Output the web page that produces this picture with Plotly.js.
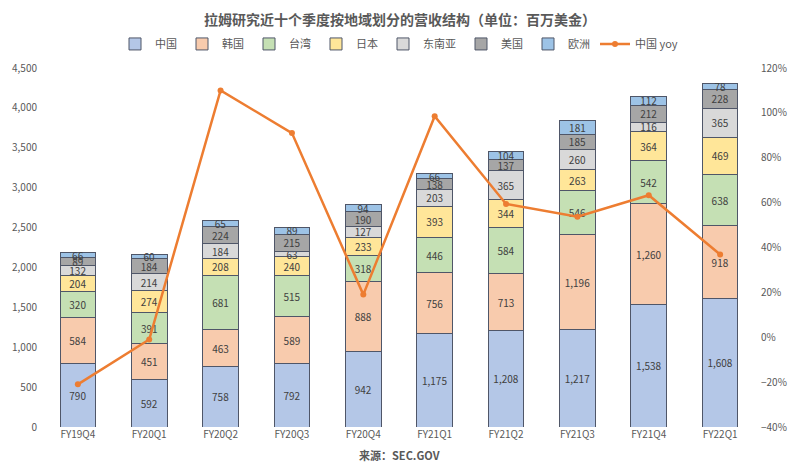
<!DOCTYPE html>
<html>
<head>
<meta charset="utf-8">
<script src="https://cdn.plot.ly/plotly-3.0.1.min.js"></script>
<style>
  html, body { margin: 0; padding: 0; background: #fff; }
  #chart { width: 800px; height: 474px; }
</style>
</head>
<body>
<div id="chart"></div>
<script>
var quarters = ['FY19Q4', 'FY20Q1', 'FY20Q2', 'FY20Q3', 'FY20Q4', 'FY21Q1', 'FY21Q2', 'FY21Q3', 'FY21Q4', 'FY22Q1'];

var china     = [790, 592, 758, 792, 942, 1175, 1208, 1217, 1538, 1608];
var korea     = [584, 451, 463, 589, 888, 756, 713, 1196, 1260, 918];
var taiwan    = [320, 391, 681, 515, 318, 446, 584, 546, 542, 638];
var japan     = [204, 274, 208, 240, 233, 393, 344, 263, 364, 469];
var seAsia    = [132, 214, 184, 63, 127, 203, 365, 260, 116, 365];
var usa       = [89, 184, 224, 215, 190, 138, 137, 185, 212, 228];
var europe    = [66, 60, 65, 89, 94, 66, 104, 181, 112, 78];
var chinaYoy  = [-0.21, -0.01, 1.10, 0.91, 0.19, 0.985, 0.594, 0.537, 0.633, 0.369];

var regions = [
    {name: '中国', y: china, color: '#B4C7E7'},
    {name: '韩国', y: korea, color: '#F8CBAD'},
    {name: '台湾', y: taiwan, color: '#C5E0B4'},
    {name: '日本', y: japan, color: '#FFE699'},
    {name: '东南亚', y: seAsia, color: '#D9D9D9'},
    {name: '美国', y: usa, color: '#A6A6A6'},
    {name: '欧洲', y: europe, color: '#9DC3E6'}
];

var labelColor = '#595959';
var font = 'Noto Sans CJK SC, Noto Sans, sans-serif';

var data = regions.map(function (r) {
    return {
        x: quarters,
        y: r.y,
        type: 'bar',
        name: r.name,
        text: r.y.map(function (v) { return v.toLocaleString('en-US'); }),
        textposition: 'inside',
        insidetextanchor: 'middle',
        textangle: 0,
        constraintext: 'none',
        textfont: {size: 10, color: '#404040', family: font},
        marker: {color: r.color, line: {color: '#4F5668', width: 1}},
        hoverinfo: 'skip'
    };
});

data.push({
    x: quarters,
    y: chinaYoy,
    type: 'scatter',
    mode: 'lines+markers',
    name: '中国 yoy',
    yaxis: 'y2',
    line: {color: '#ED7D31', width: 2.5},
    marker: {color: '#ED7D31', size: 6}
});

var layout = {
    width: 800,
    height: 474,
    barmode: 'stack',
    bargap: 0.5,
    paper_bgcolor: '#fff',
    plot_bgcolor: '#fff',
    margin: {l: 38, r: 40, t: 68, b: 47},
    font: {family: font, color: labelColor, size: 10},
    title: {
        text: '<b>拉姆研究近十个季度按地域划分的营收结构（单位：百万美金）</b>',
        font: {size: 14, color: labelColor, family: font},
        x: 0.5, xanchor: 'center',
        y: 0.958, yanchor: 'middle'
    },
    showlegend: true,
    legend: {
        orientation: 'h',
        x: 0.5, xanchor: 'center',
        y: 1.067, yanchor: 'middle',
        font: {size: 11, color: labelColor},
        itemwidth: 30,
        traceorder: 'normal'
    },
    xaxis: {
        type: 'category',
        showgrid: false,
        showline: false,
        ticks: '',
        tickfont: {size: 10, color: labelColor}
    },
    yaxis: {
        range: [0, 4500],
        dtick: 500,
        tickformat: ',',
        showgrid: false,
        zeroline: false,
        showline: false,
        ticks: '',
        tickfont: {size: 10, color: labelColor}
    },
    yaxis2: {
        overlaying: 'y',
        side: 'right',
        range: [-0.4, 1.2],
        dtick: 0.2,
        tickformat: '.0%',
        showgrid: false,
        zeroline: false,
        showline: false,
        ticks: '',
        tickfont: {size: 10, color: labelColor}
    },
    annotations: [{
        text: '<b>来源：SEC.GOV</b>',
        xref: 'paper', yref: 'paper',
        x: 0.5, y: -0.078,
        xanchor: 'center', yanchor: 'middle',
        showarrow: false,
        font: {size: 11, color: labelColor}
    }]
};

Plotly.newPlot('chart', data, layout, {displayModeBar: false, responsive: false});
</script>
</body>
</html>
